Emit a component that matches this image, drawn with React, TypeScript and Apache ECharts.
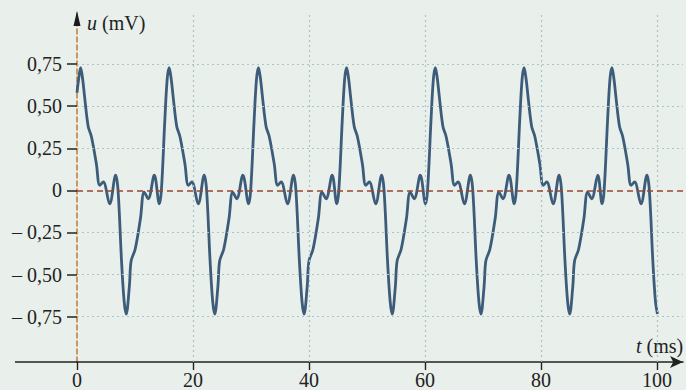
import React, { useEffect, useRef } from "react";
import * as echarts from "echarts";

// Times (ms) of each maximum of u
const peakTimes = [0.63, 15.9, 31.3, 46.5, 61.8, 77.1, 92.25];
// Shape of one period: time offset from the maximum (ms) and u (mV)
const shapeOffsets = [-1.7, -1.35, -0.75, -0.35, 0, 0.35, 0.7, 1.3, 1.85, 2.7, 3.3, 3.9, 5.0, 6.04, 6.45, 7.05, 7.5, 7.85, 8.4, 8.7, 9.4, 10.3, 10.95, 11.65, 12.7];
const shapeValues = [-0.08, 0, 0.42, 0.66, 0.73, 0.66, 0.55, 0.38, 0.32, 0.16, 0.03, 0.05, -0.08, 0.09, 0, -0.42, -0.66, -0.735, -0.57, -0.42, -0.35, -0.17, -0.01, -0.05, 0.09];
const startValue = 0.58; // u at t = 0
const endTime = 100.1;

const xTicks = [0, 20, 40, 60, 80, 100];
const xTickLabels = ["0", "20", "40", "60", "80", "100"];
const yTicks = [-0.75, -0.5, -0.25, 0, 0.25, 0.5, 0.75];
const yTickLabels = ["– 0,75", "– 0,50", "– 0,25", "0", "0,25", "0,50", "0,75"];
const yGridValues = [-0.75, -0.5, -0.25, 0.25, 0.5, 0.75];
const xGridValues = [20, 40, 60, 80, 100];

const X_MIN = 0;
const X_MAX = 104.5;
const Y_MIN = -1.02;
const Y_MAX = 1.06;

const FONT = "Liberation Serif, serif";

export default function App() {
  const ref = useRef<HTMLDivElement>(null);

  useEffect(() => {
    if (!ref.current) return;
    const chart = echarts.init(ref.current, undefined, { renderer: "svg" });

    const signal: (number[])[] = [[0, startValue]];
    peakTimes.forEach((p) => {
      shapeOffsets.forEach((o, i) => {
        const t = p + o;
        if (t > 0 && t <= endTime + 1e-6) signal.push([+t.toFixed(3), shapeValues[i]]);
      });
    });

    const gridColor = "#a9c3c9";
    const hLines = yGridValues.map((v) => [{ coord: [0, v] }, { coord: [X_MAX, v] }]);
    const vLines = xGridValues.map((t) => [{ coord: [t, Y_MIN] }, { coord: [t, Y_MAX] }]);

    const option: any = {
      animation: false,
      backgroundColor: "#e9efea",
      grid: { left: 77, right: 3, top: 12, bottom: 28, containLabel: false, outerBoundsMode: "none" },
      xAxis: {
        type: "value",
        min: X_MIN,
        max: X_MAX,
        axisLine: {
          show: true,
          onZero: false,
          symbol: ["none", "arrow"],
          symbolSize: [9, 13],
          lineStyle: { color: "#222", width: 1.6 },
        },
        axisTick: {
          show: true,
          customValues: xTicks,
          length: 8,
          lineStyle: { color: "#222", width: 1.4 },
        },
        axisLabel: {
          customValues: xTicks,
          margin: 8,
          color: "#222",
          fontFamily: FONT,
          fontSize: 20,
          formatter: (v: number) => {
            const i = xTicks.findIndex((x) => Math.abs(x - v) < 1e-6);
            return i >= 0 ? xTickLabels[i] : "";
          },
        },
        splitLine: { show: false },
      },
      yAxis: {
        type: "value",
        min: Y_MIN,
        max: Y_MAX,
        axisLine: {
          show: true,
          onZero: false,
          lineStyle: { color: "#c8813e", width: 1.6, type: [5, 3] },
        },
        axisTick: {
          show: true,
          customValues: yTicks,
          length: 10,
          lineStyle: { color: "#222", width: 1.5 },
        },
        axisLabel: {
          customValues: yTicks,
          margin: 15,
          color: "#222",
          fontFamily: FONT,
          fontSize: 20,
          formatter: (v: number) => {
            const i = yTicks.findIndex((x) => Math.abs(x - v) < 1e-6);
            return i >= 0 ? yTickLabels[i] : "";
          },
        },
        splitLine: { show: false },
      },
      series: [
        {
          type: "line",
          data: [],
          z: 1,
          silent: true,
          markLine: {
            silent: true,
            symbol: ["none", "none"],
            label: { show: false },
            emphasis: { disabled: true },
            lineStyle: { color: gridColor, width: 1.2, type: [2, 3] },
            data: [...hLines, ...vLines],
          },
        },
        {
          type: "line",
          data: [],
          z: 2,
          silent: true,
          markLine: {
            silent: true,
            symbol: ["none", "none"],
            label: { show: false },
            emphasis: { disabled: true },
            lineStyle: { color: "#9c4430", width: 1.5, type: [6, 4] },
            data: [[{ coord: [0, 0] }, { coord: [X_MAX, 0] }]],
          },
        },
        {
          type: "line",
          data: signal,
          z: 3,
          smooth: 0.35,
          showSymbol: false,
          silent: true,
          lineStyle: { color: "#3d5c7a", width: 2.8 },
        },
      ],
      graphic: [
        {
          type: "line",
          shape: { x1: 15, y1: 362, x2: 77, y2: 362 },
          style: { stroke: "#222", lineWidth: 1.6 },
          z: 10,
        },
        {
          type: "polygon",
          shape: { points: [[77, 11], [73.5, 26], [80.5, 26]] },
          style: { fill: "#1a1a1a" },
          z: 10,
        },
        {
          type: "text",
          x: 87,
          y: 23,
          style: {
            text: "{i|u} (mV)",
            fontFamily: FONT,
            fontSize: 20,
            fill: "#222",
            verticalAlign: "middle",
            rich: { i: { fontStyle: "italic", fontSize: 20, fontFamily: FONT, fill: "#222" } },
          },
          z: 10,
        },
        {
          type: "text",
          x: 636,
          y: 346,
          style: {
            text: "{i|t} (ms)",
            fontFamily: FONT,
            fontSize: 20,
            fill: "#222",
            verticalAlign: "middle",
            rich: { i: { fontStyle: "italic", fontSize: 20, fontFamily: FONT, fill: "#222" } },
          },
          z: 10,
        },
      ],
    };

    chart.setOption(option);
    return () => chart.dispose();
  }, []);

  return (
    <div
      ref={ref}
      style={{ position: "fixed", left: 0, top: 0, width: 686, height: 390 }}
    />
  );
}
